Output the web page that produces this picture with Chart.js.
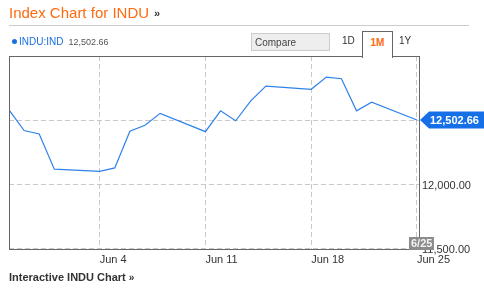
<!DOCTYPE html>
<html>
<head>
<meta charset="utf-8">
<script src="https://cdn.jsdelivr.net/npm/chart.js@4.4.1/dist/chart.umd.min.js"></script>
<style>
    body { margin: 0; width: 484px; height: 289px; position: relative; background: #fff; font-family: "Liberation Sans", Arial, sans-serif; overflow: hidden; }
    #chartBox { position: absolute; left: 0; top: 0; width: 484px; height: 289px; }
    .abs { position: absolute; white-space: nowrap; }
    #title { left: 9px; top: 4px; font-size: 15px; color: #ff6a10; }
    #title span { color: #333; font-size: 11px; font-weight: bold; margin-left: 5px; position: relative; top: -1px; }
    #rule { left: 9px; top: 25px; width: 460px; height: 1px; background: #ccc; }
    #legend { left: 12px; top: 36px; font-size: 10px; color: #1a6fe0; }
    #legend .dot { display: inline-block; width: 5px; height: 5px; border-radius: 50%; background: #1a6fe0; margin-right: 2px; position: relative; top: -1px; }
    #legend .val { color: #555; font-size: 9px; margin-left: 5px; }
    #compare { left: 251px; top: 33px; width: 74px; height: 16px; background: #eee; border: 1px solid #ccc; font-size: 10px; color: #444; line-height: 17px; padding-left: 3px; box-sizing: content-box; }
    #d1 { left: 342px; top: 35px; font-size: 10px; color: #333; }
    #tab { left: 362px; top: 31px; width: 29px; height: 26px; background: #fff; border: 1px solid #666; border-bottom: none; z-index: 2; }
    #tab div { text-align: center; margin-top: 5px; font-size: 10px; font-weight: bold; color: #ff6a10; }
    #y1 { left: 399px; top: 35px; font-size: 10px; color: #333; }
    #footer { left: 9px; top: 271px; font-size: 11px; font-weight: bold; color: #333; }
    #footer span { font-size: 10px; margin-left: 3px; }
</style>
</head>
<body>
<div id="chartBox"><canvas id="myChart"></canvas></div>
<div class="abs" id="title">Index Chart for INDU<span>&raquo;</span></div>
<div class="abs" id="rule"></div>
<div class="abs" id="legend"><span class="dot"></span>INDU:IND<span class="val">12,502.66</span></div>
<div class="abs" id="compare">Compare</div>
<div class="abs" id="d1">1D</div>
<div class="abs" id="tab"><div>1M</div></div>
<div class="abs" id="y1">1Y</div>
<div class="abs" id="footer">Interactive INDU Chart<span>&raquo;</span></div>
<script>
// trading days, counted from Jun 4 (negative = late May)
const days = [-6, -5, -4, -3, 0, 1, 2, 3, 4, 7, 8, 9, 10, 11, 14, 15, 16, 17, 18, 21];
const closes = [12580.69, 12419.86, 12393.45, 12118.57, 12101.46, 12127.95, 12414.79, 12460.96, 12554.20,
    12411.23, 12573.80, 12496.15, 12651.91, 12767.17, 12741.82, 12837.33, 12824.39, 12573.57, 12640.78, 12502.66];
const tickDays = [0, 7, 14, 21];
const tickLabels = ['Jun 4', 'Jun 11', 'Jun 18', 'Jun 25'];
const yTicks = [11500, 12000, 12500, 13000];
const lastLabel = '12,502.66';
const lastDate = '6/25';

const points = days.map((d, i) => ({ x: d, y: closes[i] }));

// box, last value callout and date badge
const extras = {
    id: 'extras',
    afterDraw(chart) {
        const ctx = chart.ctx;
        const a = chart.chartArea;
        ctx.save();
        ctx.strokeStyle = '#666';
        ctx.lineWidth = 1;
        ctx.setLineDash([]);
        ctx.strokeRect(a.left + 0.5, a.top + 0.5, a.right - a.left - 1, a.bottom - a.top - 1);

        const yPix = chart.scales.y.getPixelForValue(closes[closes.length - 1]);
        const xPix = chart.scales.x.getPixelForValue(days[days.length - 1]);
        const left = a.right;
        ctx.fillStyle = '#1570e8';
        ctx.beginPath();
        ctx.moveTo(left, yPix);
        ctx.lineTo(left + 9, yPix - 8.5);
        ctx.lineTo(484, yPix - 8.5);
        ctx.lineTo(484, yPix + 8.5);
        ctx.lineTo(left + 9, yPix + 8.5);
        ctx.closePath();
        ctx.fill();
        ctx.fillStyle = '#fff';
        ctx.font = 'bold 11px "Liberation Sans", Arial';
        ctx.textBaseline = 'middle';
        ctx.fillText(lastLabel, left + 10, yPix + 1);

        ctx.fillStyle = '#8c8c8c';
        ctx.fillRect(xPix - 8, a.bottom - 13, 25, 13);
        ctx.fillStyle = '#f4f4f4';
        ctx.fillText(lastDate, xPix - 6, a.bottom - 6);
        ctx.restore();
    }
};

const gridOpts = { color: '#c8c8c8', drawTicks: false, borderDash: [5, 3] };
const borderOpts = { display: true, color: 'rgba(0,0,0,0)', width: 0, dash: [5, 3] };

new Chart(document.getElementById('myChart'), {
    type: 'line',
    data: {
        datasets: [{
            data: points,
            borderColor: '#2f82ea',
            borderWidth: 1.2,
            pointRadius: 0,
            tension: 0,
            fill: false
        }]
    },
    options: {
        responsive: true,
        maintainAspectRatio: false,
        animation: false,
        layout: { padding: { left: 9, top: 56, right: 0, bottom: 23 } },
        plugins: { legend: { display: false }, tooltip: { enabled: false } },
        scales: {
            x: {
                type: 'linear',
                min: -6,
                max: 21.2,
                afterBuildTicks: (scale) => { scale.ticks = tickDays.map(v => ({ value: v })); },
                afterFit: (scale) => { scale.height = 16; },
                grid: gridOpts,
                border: borderOpts,
                ticks: {
                    align: 'start',
                    padding: 3,
                    color: '#333',
                    font: { family: '"Liberation Sans", Arial', size: 11 },
                    callback: (v) => tickLabels[tickDays.indexOf(v)] || ''
                }
            },
            y: {
                position: 'right',
                min: 11487,
                max: 13002,
                afterBuildTicks: (scale) => { scale.ticks = yTicks.map(v => ({ value: v })); },
                afterFit: (scale) => { scale.width = 64; },
                grid: gridOpts,
                border: borderOpts,
                ticks: {
                    padding: 2,
                    labelOffset: 2,
                    color: '#333',
                    font: { family: '"Liberation Sans", Arial', size: 11 },
                    callback: (v) => (v === 12000 || v === 11500) ? v.toLocaleString('en-US', { minimumFractionDigits: 2 }) : ''
                }
            }
        }
    },
    plugins: [extras]
});
</script>
</body>
</html>
